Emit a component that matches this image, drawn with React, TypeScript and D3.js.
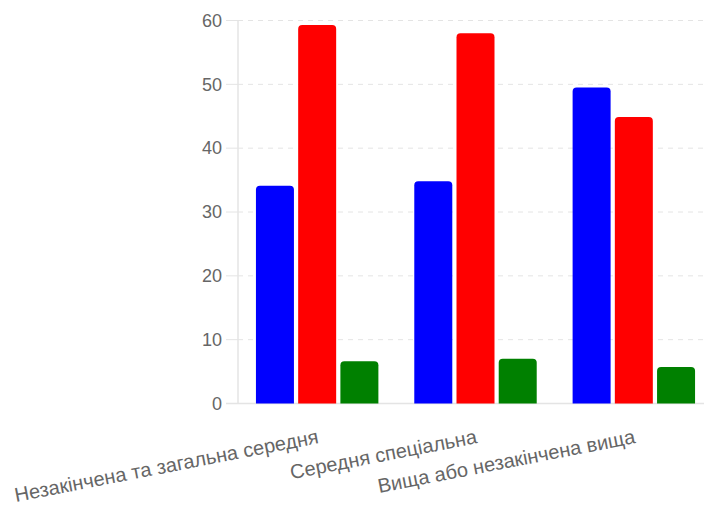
import React from "react";
import * as d3 from "d3";

const categories = [
  "Незакінчена та загальна середня",
  "Середня спеціальна",
  "Вища або незакінчена вища",
];
const seriesNames = ["s1", "s2", "s3"];
const seriesColors = ["#0000ff", "#ff0000", "#008000"];
const blueValues = [34.1, 34.8, 49.5];
const redValues = [59.3, 58.0, 44.9];
const greenValues = [6.6, 7.0, 5.7];
const yTicks = [0, 10, 20, 30, 40, 50, 60];

const W = 704;
const H = 510;
const left = 238;
const right = 713;
const top = 20.5;
const bottom = 403.5;

function roundedTop(x: number, y: number, w: number, h: number, r: number) {
  const rr = Math.min(r, w / 2, h);
  return `M${x},${y + h}V${y + rr}Q${x},${y} ${x + rr},${y}H${x + w - rr}Q${x + w},${y} ${x + w},${y + rr}V${y + h}Z`;
}

export default function App() {
  const values = [blueValues, redValues, greenValues];
  const x0 = d3.scaleBand<string>().domain(categories).range([left, right]).paddingInner(0.2).paddingOuter(0.1);
  const x1 = d3.scaleBand<string>().domain(seriesNames).range([0, x0.bandwidth()]).paddingInner(0.1).paddingOuter(0.05);
  const y = d3.scaleLinear().domain([0, 60]).range([bottom, top]);
  const font = "'Liberation Sans', Arial, Helvetica, sans-serif";

  return (
    <svg width={W} height={H} style={{ position: "absolute", left: 0, top: 0 }} fontFamily={font}>
      {yTicks.map((t) => (
        <g key={t}>
          {t > 0 && (
            <line x1={left} x2={W} y1={y(t)} y2={y(t)} stroke="#e4e4e4" strokeWidth={1} strokeDasharray="5,5" />
          )}
          <line x1={left - 12} x2={left} y1={y(t)} y2={y(t)} stroke="#e4e4e4" strokeWidth={1} />
          <text x={left - 16} y={y(t)} dy="0.35em" textAnchor="end" fontSize={18} fill="#666">
            {t}
          </text>
        </g>
      ))}
      <line x1={left} x2={left} y1={top} y2={bottom} stroke="#e4e4e4" strokeWidth={1.5} />
      <line x1={left - 12} x2={W} y1={bottom} y2={bottom} stroke="#e4e4e4" strokeWidth={1.5} />
      {categories.map((c, ci) => (
        <g key={c}>
          {seriesNames.map((s, si) => {
            const v = values[si][ci];
            const bx = (x0(c) as number) + (x1(s) as number);
            const by = y(v);
            return (
              <path key={s} d={roundedTop(bx, by, x1.bandwidth(), bottom - by, 4)} fill={seriesColors[si]} />
            );
          })}
          <text
            transform={`translate(${(x0(c) as number) + x0.bandwidth() / 2 - 3},${bottom + 12}) rotate(-11)`}
            textAnchor="end"
            y={28}
            fontSize={20}
            fill="#666"
          >
            {c}
          </text>
        </g>
      ))}
    </svg>
  );
}
